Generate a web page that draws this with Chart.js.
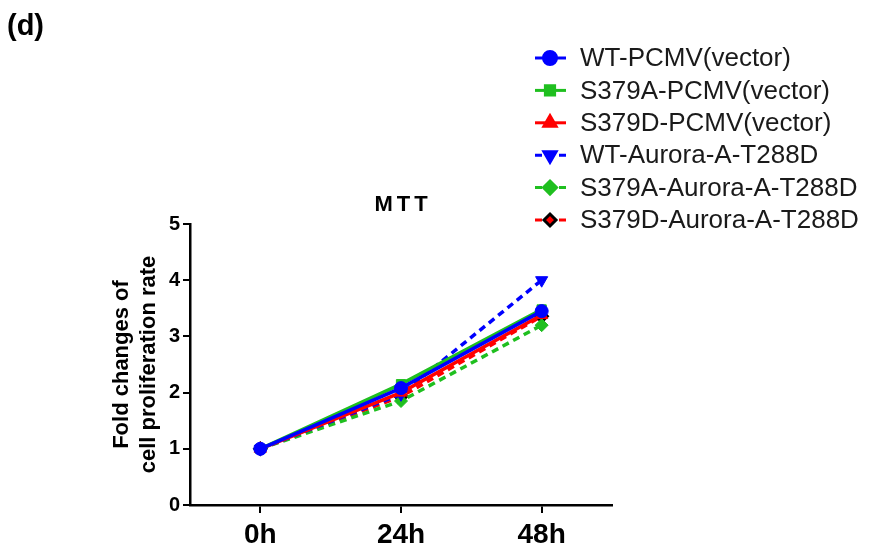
<!DOCTYPE html>
<html>
<head>
<meta charset="utf-8">
<script src="https://cdn.jsdelivr.net/npm/chart.js@4"></script>
<style>
    html, body { margin: 0; padding: 0; background: #fff; }
    #wrap { width: 873px; height: 548px; }
</style>
</head>
<body>
<div id="wrap"><canvas id="mttChart"></canvas></div>
<script>
// MTT proliferation data (fold change vs 0h)
const timePoints = ['0h', '24h', '48h'];
const wtPcmv = [1.0, 2.08, 3.45];
const s379aPcmv = [1.0, 2.15, 3.48];
const s379dPcmv = [1.0, 2.0, 3.38];
const wtAurora = [1.0, 1.97, 4.0];
const s379aAurora = [1.0, 1.85, 3.2];
const s379dAurora = [1.0, 1.93, 3.36];
const yTicks = [0, 1, 2, 3, 4, 5];

const BLUE = '#0000ff';
const GREEN = '#1fbf1f';
const RED = '#ff0000';
const FONT = '"Liberation Sans", Arial, sans-serif';

function series(label, data, color, style, dashed, extra) {
    return Object.assign({
        label: label,
        data: data,
        borderColor: color,
        backgroundColor: color,
        pointBackgroundColor: color,
        pointBorderColor: color,
        pointStyle: style,
        pointRadius: 6.5,
        pointBorderWidth: 1,
        borderWidth: 3.5,
        borderDash: dashed ? [7, 5] : [],
        tension: 0
    }, extra || {});
}

// legend + panel labels drawn on the canvas
const annotations = {
    id: 'annotations',
    afterDraw(chart) {
        const ctx = chart.ctx;
        ctx.save();
        ctx.fillStyle = '#000';
        ctx.textBaseline = 'middle';
        ctx.font = 'bold 29px ' + FONT;
        ctx.fillText('(d)', 7, 27);
        ctx.font = 'bold 22px ' + FONT;
        ctx.textAlign = 'center';
        ctx.letterSpacing = '4px';
        ctx.fillText('MTT', 403, 205);
        ctx.letterSpacing = '0px';

        ctx.textAlign = 'left';
        ctx.font = '26px ' + FONT;
        chart.data.datasets.forEach(function(ds, i) {
            const y = 58 + i * 32.4;
            ctx.strokeStyle = ds.borderColor;
            ctx.lineWidth = 3;
            ctx.setLineDash(ds.borderDash);
            ctx.beginPath();
            ctx.moveTo(535, y);
            ctx.lineTo(566, y);
            ctx.stroke();
            ctx.setLineDash([]);
            ctx.fillStyle = ds.pointBackgroundColor;
            ctx.strokeStyle = ds.pointBorderColor;
            Chart.helpers.drawPoint(ctx, {
                pointStyle: ds.pointStyle,
                rotation: ds.pointRotation || 0,
                radius: ds.pointRadius,
                borderWidth: ds.pointBorderWidth
            }, 550, y);
            ctx.fillStyle = '#1a1a1a';
            ctx.fillText(ds.label, 580, y + 1);
        });
        ctx.restore();
    }
};

new Chart(document.getElementById('mttChart'), {
    type: 'line',
    data: {
        labels: timePoints,
        datasets: [
            series('WT-PCMV(vector)', wtPcmv, BLUE, 'circle', false),
            series('S379A-PCMV(vector)', s379aPcmv, GREEN, 'rect', false),
            series('S379D-PCMV(vector)', s379dPcmv, RED, 'triangle', false, { pointRadius: 7 }),
            series('WT-Aurora-A-T288D', wtAurora, BLUE, 'triangle', true, { pointRadius: 7, pointRotation: 180 }),
            series('S379A-Aurora-A-T288D', s379aAurora, GREEN, 'rectRot', true),
            series('S379D-Aurora-A-T288D', s379dAurora, RED, 'rectRot', true, {
                pointBorderColor: '#000', pointBorderWidth: 2.5, pointRadius: 6
            })
        ]
    },
    options: {
        responsive: true,
        maintainAspectRatio: false,
        animation: false,
        layout: { padding: { top: 224, right: 261, left: 0, bottom: 0 } },
        plugins: {
            legend: { display: false },
            tooltip: { enabled: false }
        },
        scales: {
            x: {
                offset: true,
                afterFit: function(scale) { scale.height = 43; },
                grid: { drawOnChartArea: false, offset: false, color: '#000', lineWidth: 2, tickLength: 8 },
                border: { display: true, color: '#000', width: 2.5 },
                ticks: { color: '#000', padding: 5, font: { family: FONT, size: 28, weight: 'bold' } }
            },
            y: {
                min: 0,
                max: 5,
                afterFit: function(scale) { scale.width = 190; },
                afterBuildTicks: function(scale) {
                    scale.ticks = yTicks.map(v => ({ value: v }));
                },
                grid: { drawOnChartArea: false, color: '#000', lineWidth: 2, tickLength: 7 },
                border: { display: true, color: '#000', width: 2.5 },
                ticks: { color: '#000', padding: 3, font: { family: FONT, size: 20, weight: 'bold' } },
                title: {
                    display: true,
                    text: ['Fold changes of', 'cell proliferation rate'],
                    color: '#000',
                    padding: { top: 108, bottom: 0 },
                    font: { family: FONT, size: 22, weight: 'bold', lineHeight: 1.25 }
                }
            }
        }
    },
    plugins: [annotations]
});
</script>
</body>
</html>
